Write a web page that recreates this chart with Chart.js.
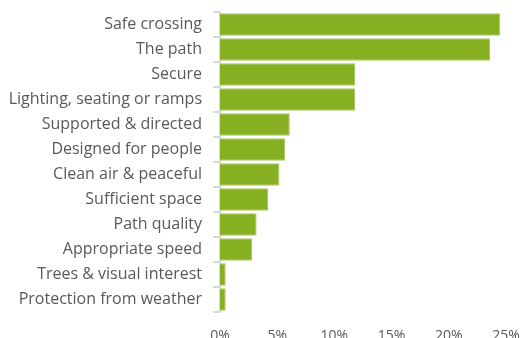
<!DOCTYPE html>
<html>
<head>
<meta charset="utf-8">
<script src="https://cdn.jsdelivr.net/npm/chart.js@4/dist/chart.umd.min.js"></script>
<style>
  html, body { margin: 0; padding: 0; background: #fff; overflow: hidden; }
  #wrap { width: 521px; height: 343px; position: relative; }
</style>
</head>
<body>
<div id="wrap"><canvas id="factors-chart"></canvas></div>
<script>
// share of responses mentioning each factor (%)
const factors = [
    'Safe crossing',
    'The path',
    'Secure',
    'Lighting, seating or ramps',
    'Supported & directed',
    'Designed for people',
    'Clean air & peaceful',
    'Sufficient space',
    'Path quality',
    'Appropriate speed',
    'Trees & visual interest',
    'Protection from weather'
]
const shares = [24.5, 23.6, 11.8, 11.8, 6.1, 5.7, 5.2, 4.2, 3.2, 2.8, 0.5, 0.5]
const xTicks = [0, 5, 10, 15, 20, 25]

const labelColor = '#595959'
const axisColor = '#d9d9d9'
const barColor = '#86AF21'

const canvas = document.querySelector('#factors-chart')
new Chart(canvas.getContext('2d'), {
    type: 'bar',
    data: {
        labels: factors,
        datasets: [{
            data: shares,
            backgroundColor: barColor,
            borderColor: '#a9c865',
            borderWidth: 1,
            barPercentage: 0.9,
            categoryPercentage: 1
        }]
    },
    options: {
        indexAxis: 'y',
        responsive: true,
        maintainAspectRatio: false,
        animation: false,
        layout: { padding: { top: 12, right: 15, bottom: 0, left: 0 } },
        plugins: {
            legend: { display: false },
            tooltip: { enabled: false }
        },
        scales: {
            x: {
                min: 0,
                max: 25,
                afterBuildTicks: scale => { scale.ticks = xTicks.map(v => ({ value: v })) },
                // fixed axis band; edge labels may overhang the plot
                afterFit: scale => {
                    scale.height = 31
                    scale.paddingLeft = 0
                    scale.paddingRight = 0
                },
                grid: { display: false },
                border: { display: false },
                ticks: {
                    color: labelColor,
                    padding: 8,
                    font: { family: 'Open Sans', size: 14 },
                    callback: v => v + '%'
                }
            },
            y: {
                afterFit: scale => {
                    scale.width = 220
                    scale.paddingTop = 0
                    scale.paddingBottom = 0
                },
                grid: {
                    drawOnChartArea: false,
                    drawTicks: true,
                    tickLength: 7,
                    color: axisColor,
                    lineWidth: 2
                },
                border: { display: true, color: axisColor, width: 2 },
                ticks: {
                    color: labelColor,
                    padding: 11,
                    font: { family: 'Open Sans', size: 16 }
                }
            }
        }
    }
})
</script>
</body>
</html>
